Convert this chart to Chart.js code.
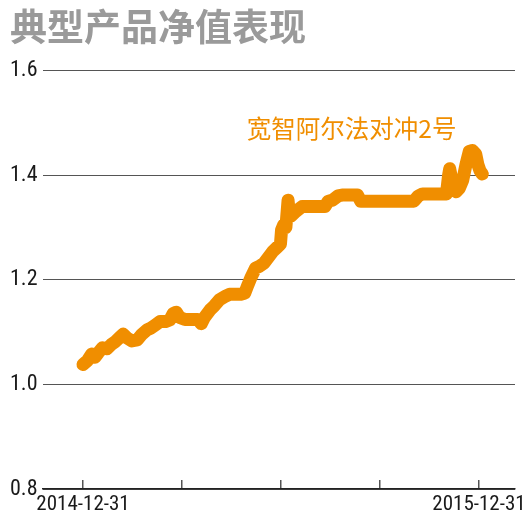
<!DOCTYPE html>
<html>
<head>
<meta charset="utf-8">
<script src="https://cdn.jsdelivr.net/npm/chart.js@4.4.0/dist/chart.umd.min.js"></script>
<style>
  html, body { margin: 0; padding: 0; background: #fff; }
  #wrap { width: 526px; height: 522px; position: relative; }
</style>
</head>
<body>
<div id="wrap"><canvas id="nav_chart"></canvas></div>
<script>
// days since 2014-12-31 and net value
const days = [0, 4, 8, 11, 14, 18, 22, 26, 30, 34, 37, 41, 45, 50, 54, 59, 63, 67, 71, 76,
    80, 83, 86, 89, 94, 100, 106, 109, 112, 117, 121, 126, 131, 135, 140, 145, 149, 152, 155, 159,
    163, 167, 171, 175, 179, 182, 183, 185, 187, 189, 190, 192, 196, 202, 210, 217, 223, 226, 230, 235,
    240, 247, 253, 256, 265, 275, 285, 295, 305, 309, 313, 320, 328, 335, 337, 338, 341, 344, 347, 350,
    353, 356, 359, 362, 364, 366, 368]
const nav_values = [1.038, 1.045, 1.058, 1.052, 1.060, 1.070, 1.068, 1.076, 1.082, 1.090, 1.096, 1.088, 1.083, 1.085, 1.095, 1.104, 1.108, 1.114, 1.120, 1.120,
    1.123, 1.135, 1.138, 1.128, 1.124, 1.124, 1.124, 1.116, 1.128, 1.142, 1.150, 1.162, 1.168, 1.172, 1.172, 1.172, 1.174, 1.190, 1.205, 1.222,
    1.226, 1.232, 1.243, 1.254, 1.262, 1.268, 1.295, 1.305, 1.300, 1.352, 1.330, 1.322, 1.330, 1.340, 1.340, 1.340, 1.340, 1.350, 1.352, 1.360,
    1.362, 1.362, 1.362, 1.350, 1.350, 1.350, 1.350, 1.350, 1.350, 1.360, 1.364, 1.364, 1.364, 1.364, 1.400, 1.412, 1.380, 1.368, 1.375, 1.390,
    1.420, 1.445, 1.447, 1.440, 1.420, 1.408, 1.402]

const x_tick_days = [0, 91.25, 182.5, 273.75, 365]
const x_tick_labels = ['2014-12-31', '', '', '', '2015-12-31']
const y_ticks = [0.8, 1.0, 1.2, 1.4, 1.6]

const chart_title = '典型产品净值表现'
const series_name = '宽智阿尔法对冲2号'
const series_label_pos = { day: 151, value: 1.488 }

const orange = '#F08E00'
const num_font = "'Roboto Condensed', 'Open Sans', sans-serif"

const series_label_plugin = {
    id: 'series_label',
    afterDatasetsDraw: (chart) => {
        const ctx = chart.ctx
        const x = chart.scales.x.getPixelForValue(series_label_pos.day)
        const y = chart.scales.y.getPixelForValue(series_label_pos.value)
        ctx.save()
        ctx.font = "24.5px 'Noto Sans CJK SC', sans-serif"
        ctx.fillStyle = orange
        ctx.textAlign = 'left'
        ctx.textBaseline = 'middle'
        ctx.fillText(series_name, x, y)
        ctx.restore()
    }
}

const config = {
    type: 'line',
    data: {
        datasets: [{
            label: series_name,
            data: days.map((d, i) => ({ x: d, y: nav_values[i] })),
            borderColor: orange,
            backgroundColor: orange,
            borderWidth: 13,
            borderCapStyle: 'round',
            borderJoinStyle: 'round',
            pointRadius: 0,
            tension: 0,
        }]
    },
    options: {
        responsive: true,
        maintainAspectRatio: false,
        animation: false,
        layout: { padding: { left: 10, right: 11, top: 0, bottom: 0 } },
        scales: {
            x: {
                type: 'linear',
                min: -36.9,
                max: 398.2,
                afterBuildTicks: (scale) => {
                    scale.ticks = x_tick_days.map(v => ({ value: v }))
                },
                afterFit: (scale) => { scale.height = 33; scale.paddingLeft = 0; scale.paddingRight = 0 },
                border: { display: true, color: '#222', width: 1.5 },
                grid: {
                    drawOnChartArea: false,
                    drawTicks: true,
                    tickLength: -9,
                    color: '#555',
                    lineWidth: 1.5,
                },
                ticks: {
                    autoSkip: false,
                    maxRotation: 0,
                    padding: 12,
                    color: '#1a1a1a',
                    font: { family: num_font, size: 21 },
                    callback: (value, index) => x_tick_labels[index],
                }
            },
            y: {
                min: 0.8,
                max: 1.6,
                afterBuildTicks: (scale) => {
                    scale.ticks = y_ticks.map(v => ({ value: v }))
                },
                afterFit: (scale) => { scale.width = 33 },
                border: { display: false },
                grid: {
                    drawTicks: false,
                    color: '#555',
                    lineWidth: 1,
                },
                ticks: {
                    crossAlign: 'far',
                    padding: 8,
                    color: '#1a1a1a',
                    font: { family: num_font, size: 22 },
                    callback: (value) => value.toFixed(1),
                }
            }
        },
        plugins: {
            legend: { display: false },
            tooltip: { enabled: false },
            title: {
                display: true,
                text: chart_title,
                align: 'start',
                color: '#9a9a9a',
                font: { family: "'Noto Sans CJK SC', sans-serif", size: 37, weight: 'bold', lineHeight: 1.2 },
                padding: { top: 5, bottom: 21 },
            }
        }
    },
    plugins: [series_label_plugin]
}

new Chart(document.getElementById('nav_chart'), config)
</script>
</body>
</html>
